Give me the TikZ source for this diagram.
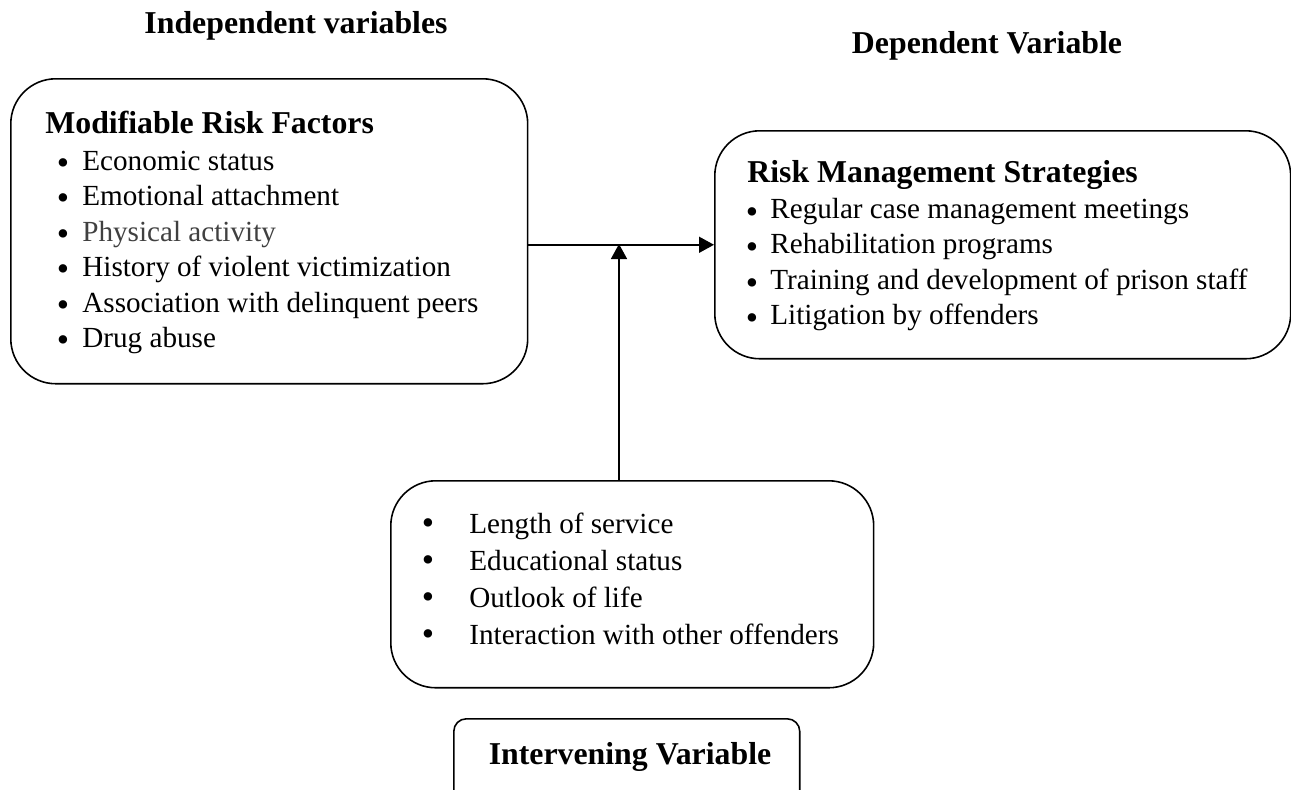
\documentclass[tikz,border=0pt]{standalone}
\usepackage{fontspec}
\setmainfont{Liberation Serif}
\usetikzlibrary{arrows.meta}
\definecolor{softgray}{HTML}{404040}

\begin{document}
\begin{tikzpicture}[x=0.02cm,y=-0.02cm,
    box/.style={draw,line width=0.9pt,rounded corners=0.9cm,anchor=north west,inner sep=0pt},
    head/.style={font=\fontsize{18.1}{21}\selectfont\bfseries,anchor=base,inner sep=0pt},
    item/.style={font=\fontsize{16.6}{20}\selectfont,anchor=base west,inner sep=0pt},
    dot/.style={font=\fontsize{20}{20}\selectfont,anchor=base,inner sep=0pt},
    tip/.style={line width=0.9pt,-{Triangle[length=0.3cm,width=0.32cm]}}]
  \clip (0,0) rectangle (1291,789);
  \node[head] (indep) at (296,33) {Independent variables};
  \node[head] (dep) at (987,53) {Dependent Variable};
  \node[box,minimum width=10.34cm,minimum height=6.1cm] (risk) at (10,78) {};
  \node[box,minimum width=11.52cm,minimum height=4.56cm] (strat) at (714,130) {};
  \node[box,minimum width=9.66cm,minimum height=4.14cm] (interv) at (390,480) {};
  \node[box,rounded corners=0.25cm,minimum width=6.92cm,minimum height=1.7cm] (label) at (453,718) {};
  \node[head,anchor=base west] (risktitle) at (45,133) {Modifiable Risk Factors};
  \foreach \txt/\col [count=\i from 0] in {Economic status/black,Emotional attachment/black,
      Physical activity/softgray,History of violent victimization/black,
      Association with delinquent peers/black,Drug abuse/black} {
    \node[dot,yshift=-0.08cm] (riskdot-\i) at (63,170+35.5*\i) {•};
    \node[item,text=\col] (riskitem-\i) at (82,170+35.5*\i) {\txt};
  }
  \node[head,anchor=base west] (strattitle) at (747,182) {Risk Management Strategies};
  \foreach \txt [count=\i from 0] in {Regular case management meetings,Rehabilitation programs,
      Training and development of prison staff,Litigation by offenders} {
    \node[dot,yshift=-0.1cm] (stratdot-\i) at (752,218+35.5*\i) {•};
    \node[item] (stratitem-\i) at (770,218+35.5*\i) {\txt};
  }
  \foreach \txt [count=\i from 0] in {Length of service,Educational status,
      Outlook of life,Interaction with other offenders} {
    \node[dot,yshift=-0.03cm] (intervdot-\i) at (428,533+37*\i) {•};
    \node[item] (intervitem-\i) at (469,533+37*\i) {\txt};
  }
  \node[head] (labeltext) at (630,764) {Intervening Variable};
  \coordinate (meet) at (619,244);
  \draw[tip] (risk.east |- strat.west) -- (strat.west);
  \draw[tip] (interv.north -| meet) -- (meet);
\end{tikzpicture}
\end{document}
